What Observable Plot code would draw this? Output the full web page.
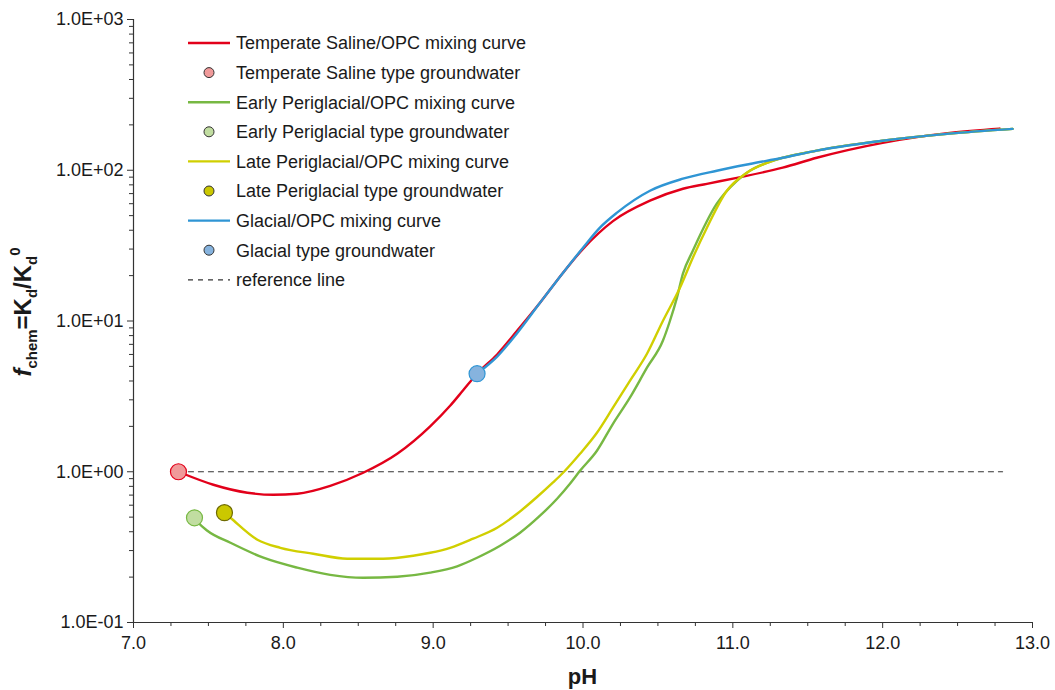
<!DOCTYPE html>
<html><head><meta charset="utf-8">
<script src="https://cdn.jsdelivr.net/npm/d3@7"></script>
<script src="https://cdn.jsdelivr.net/npm/@observablehq/plot@0.6"></script>
<style>body{margin:0;background:#fff}#chart{width:1055px;height:690px}</style>
</head><body><div id="chart"></div>
<script>
// ---- data ----
const redPH = [7.30,7.333,7.533,7.76,7.933,8.093,8.313,8.533,8.76,8.98,9.113,9.20,9.293,9.427,9.56,9.713,9.867,10.0,10.2,10.447,10.667,10.827,11.027,11.333,11.56,12.0,12.447,12.78];
const redK  = [1.00,0.97,0.82,0.726,0.703,0.715,0.807,0.985,1.316,2.0,2.74,3.47,4.47,6.0,8.6,13.2,20.9,30.1,46.0,62.8,75.4,81.3,89.1,104,121,152,177,189];

const greenPH = [7.407,7.433,7.493,7.647,7.867,8.093,8.313,8.533,8.76,8.98,9.16,9.293,9.447,9.58,9.713,9.827,9.913,9.98,10.093,10.2,10.313,10.427,10.533,10.58,10.627,10.667,10.733,10.893,11.027,11.113,11.227,11.56,12.0,12.447,12.867];
const greenK  = [0.495,0.459,0.406,0.338,0.269,0.231,0.207,0.198,0.201,0.214,0.236,0.269,0.323,0.394,0.511,0.662,0.833,1.015,1.378,2.08,3.10,4.90,7.39,10.0,14.3,20.6,29.2,60.0,85.1,99.3,112,135,157,175,188];

const yellowPH = [7.607,7.647,7.827,7.98,8.20,8.427,8.667,8.867,8.98,9.113,9.267,9.427,9.56,9.693,9.80,9.867,9.98,10.093,10.2,10.313,10.427,10.533,10.647,10.733,10.827,10.96,11.093,11.227,11.56,12.0,12.447,12.867];
const yellowK  = [0.535,0.495,0.354,0.313,0.286,0.265,0.265,0.277,0.290,0.313,0.360,0.425,0.526,0.68,0.85,0.985,1.316,1.814,2.66,4.01,6.06,10.0,16.6,26.3,41.6,73.1,96.2,112,135,157,175,188];

const bluePH = [9.293,9.427,9.56,9.713,9.867,10.0,10.113,10.227,10.447,10.667,10.893,11.113,11.333,11.56,12.0,12.447,12.867];
const blueK  = [4.47,5.8,8.3,13.2,20.9,30.6,41.6,52.3,73.1,87.9,99.3,110,121,135,157,175,188];

const gwNames = ["Temperate Saline","Early Periglacial","Late Periglacial","Glacial"];
const gwPH = [7.30, 7.407, 7.607, 9.293];
const gwK  = [1.00, 0.495, 0.535, 4.47];

const refPH = [7.30, 12.80];
const refK  = [1, 1];

const xTicks = [7,8,9,10,11,12,13];
const xTickLabels = ["7.0","8.0","9.0","10.0","11.0","12.0","13.0"];
const yTicks = [0.1,1,10,100,1000];
const yTickLabels = ["1.0E-01","1.0E+00","1.0E+01","1.0E+02","1.0E+03"];

const legendLabels = [
  "Temperate Saline/OPC mixing curve","Temperate Saline type groundwater",
  "Early Periglacial/OPC mixing curve","Early Periglacial type groundwater",
  "Late Periglacial/OPC mixing curve","Late Periglacial type groundwater",
  "Glacial/OPC mixing curve","Glacial type groundwater","reference line"];

// ---- styles ----
const lineColors = ["#e2001a","#77b843","#d0cf00","#2f95d4"];
const dotFill    = ["#f09a9a","#c1dda1","#cbc800","#86b3de"];
const dotStroke  = ["#e2001a","#77b843","#6e6a00","#2f95d4"];

const mk = (xs, ys) => xs.map((x,i)=>({pH:x, k:ys[i]}));
const series = [mk(redPH,redK), mk(greenPH,greenK), mk(yellowPH,yellowK), mk(bluePH,blueK)];
const gw = gwPH.map((x,i)=>({pH:x, k:gwK[i], i}));
const ref = mk(refPH, refK);

const xMinor = d3.range(7, 13.001, 0.25).filter(v => Math.abs(v - Math.round(v)) > 1e-9);
const yMinor = [];
[0.1,1,10,100].forEach(d => { for (let m=2;m<=9;m++) yMinor.push(d*m); });

const xLab = new Map(xTicks.map((t,i)=>[t,xTickLabels[i]]));
const yLab = new Map(yTicks.map((t,i)=>[t,yTickLabels[i]]));

const FONT = "'Liberation Sans', Arial, sans-serif";
const W = 1055, H = 690;
const plot = Plot.plot({
  width: W, height: H,
  marginLeft: 133, marginRight: 23, marginTop: 19, marginBottom: 68,
  style: {fontFamily: FONT, fontSize: "18px", color: "#1a1a1a", background: "#fff"},
  x: {domain: [7, 13]},
  y: {type: "log", domain: [0.1, 1000]},
  marks: [
    Plot.axisX(xMinor, {tickSize: 4, tickFormat: () => "", label: null, stroke: "#333"}),
    Plot.axisX(xTicks, {tickSize: 6, tickPadding: 8, tickFormat: d => xLab.get(d), label: null, stroke: "#333", fontSize: 18}),
    Plot.axisY(yMinor, {tickSize: 4, tickFormat: () => "", label: null, stroke: "#333"}),
    Plot.axisY(yTicks, {tickSize: 6, tickPadding: 4, tickFormat: d => yLab.get(d), label: null, stroke: "#333", fontSize: 18}),
    Plot.ruleX([7], {stroke: "#333", strokeWidth: 1.2}),
    Plot.ruleY([0.1], {stroke: "#333", strokeWidth: 1.2}),
    Plot.line(ref, {x: "pH", y: "k", stroke: "#333", strokeWidth: 1.2, strokeDasharray: "5,5"}),
    ...series.map((s, i) => Plot.line(s, {x: "pH", y: "k", stroke: lineColors[i], strokeWidth: 2.4, curve: "monotone-x"})),
    Plot.dot(gw, {x: "pH", y: "k", r: 8, fill: d => dotFill[d.i], stroke: d => dotStroke[d.i], strokeWidth: 1.2})
  ]
});
document.getElementById("chart").appendChild(plot);

const svg = d3.select(plot);
const xs = plot.scale("x");
// x label
svg.append("text").attr("x", xs.apply(10)).attr("y", 684).attr("text-anchor", "middle")
  .attr("font-size", 22).attr("font-weight", "bold")
  .attr("font-family", FONT).attr("fill", "#1a1a1a").text("pH");

// y label
const yl = svg.append("text").attr("transform", "translate(31,312) rotate(-90)")
  .attr("text-anchor", "middle").attr("font-size", 24).attr("font-weight", "bold")
  .attr("font-family", FONT).attr("fill", "#1a1a1a");
yl.append("tspan").attr("font-style", "italic").text("f");
yl.append("tspan").attr("font-size", 15).attr("dy", 6).text("chem");
yl.append("tspan").attr("dy", -6).text("=K");
yl.append("tspan").attr("font-size", 15).attr("dy", 6).text("d");
yl.append("tspan").attr("dy", -6).text("/K");
yl.append("tspan").attr("font-size", 15).attr("dy", 6).text("d");
yl.append("tspan").attr("font-size", 15).attr("dy", -17).text("0");

// legend
const lg = svg.append("g").attr("font-family", FONT).attr("font-size", 18).attr("fill", "#1a1a1a").attr("text-anchor", "start");
legendLabels.forEach((lab, j) => {
  const y = 43 + j * 29.6;
  const si = Math.floor(j / 2);
  if (j === 8) {
    lg.append("line").attr("x1", 188).attr("x2", 230).attr("y1", y).attr("y2", y)
      .attr("stroke", "#333").attr("stroke-width", 1.2).attr("stroke-dasharray", "5,5");
  } else if (j % 2 === 0) {
    lg.append("line").attr("x1", 188).attr("x2", 230).attr("y1", y).attr("y2", y)
      .attr("stroke", lineColors[si]).attr("stroke-width", 2.4);
  } else {
    lg.append("circle").attr("cx", 209).attr("cy", y).attr("r", 5)
      .attr("fill", dotFill[si]).attr("stroke", "#333").attr("stroke-width", 1);
  }
  lg.append("text").attr("x", 236).attr("y", y).attr("dy", "0.35em").attr("text-anchor", "start").text(lab);
});
</script>
</body></html>
